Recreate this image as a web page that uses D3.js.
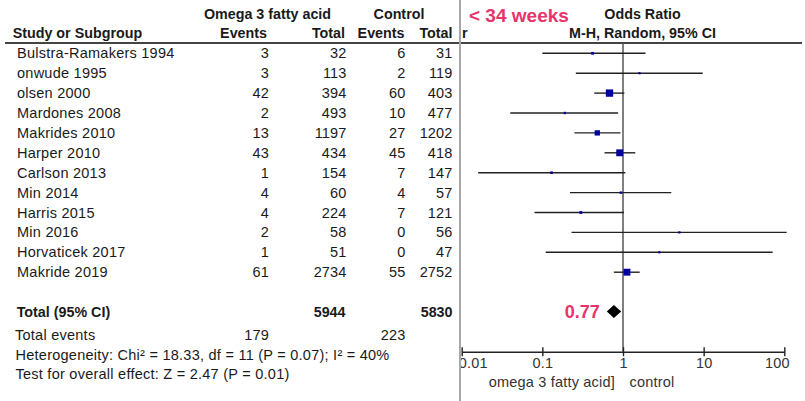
<!DOCTYPE html>
<html>
<head>
<meta charset="utf-8">
<script src="https://cdn.jsdelivr.net/npm/d3@7/dist/d3.min.js"></script>
<style>
  html, body { margin: 0; padding: 0; background: #fff; }
  svg { display: block; }
  text { font-family: "Liberation Sans", Arial, sans-serif; fill: #1a1a1a; }
</style>
</head>
<body>
<svg id="chart" width="805" height="401"></svg>
<script>
// ---- data ----
const studies = ["Bulstra-Ramakers 1994", "onwude 1995", "olsen 2000", "Mardones 2008",
  "Makrides 2010", "Harper 2010", "Carlson 2013", "Min 2014", "Harris 2015",
  "Min 2016", "Horvaticek 2017", "Makride 2019"];
const expEvents = [3, 3, 42, 2, 13, 43, 1, 4, 4, 2, 1, 61];
const expTotal = [32, 113, 394, 493, 1197, 434, 154, 60, 224, 58, 51, 2734];
const ctlEvents = [6, 2, 60, 10, 27, 45, 7, 4, 7, 0, 0, 55];
const ctlTotal = [31, 119, 403, 477, 1202, 418, 147, 57, 121, 56, 47, 2752];
const oddsRatio = [0.42, 1.60, 0.68, 0.19, 0.48, 0.91, 0.13, 0.94, 0.30, 5.00, 2.82, 1.12];
const ciLower = [0.10, 0.26, 0.44, 0.04, 0.25, 0.59, 0.016, 0.22, 0.08, 0.23, 0.11, 0.77];
const ciUpper = [1.90, 9.75, 1.04, 0.87, 0.93, 1.42, 1.07, 3.97, 1.03, 107, 71.6, 1.61];
const weights = [3.5, 2.0, 24, 2.5, 12.5, 21, 3.0, 2.5, 3.5, 1.0, 1.0, 21];
const totalExp = 5944, totalCtl = 5830;
const totalEventsExp = 179, totalEventsCtl = 223;
const pooled = { or: 0.77, lo: 0.63, hi: 0.95 };
const tickValues = [0.01, 0.1, 1, 10, 100];
const tickLabels = ["0.01", "0.1", "1", "10", "100"];

// ---- layout ----
const svg = d3.select("#chart");
const x = d3.scaleLog().domain([0.01, 100]).range([461.7, 784.3]);
const rowY = d3.scaleLinear().domain([0, 1]).range([53.3, 73.2]);
const sizeScale = d3.scaleSqrt().domain([0, 100]).range([0, 15]);
const fs = 14.3;
const fsN = 14.5;

function txt(xp, yp, s, opts = {}) {
  const t = svg.append("text").attr("x", xp).attr("y", yp)
    .attr("font-size", opts.size || (opts.bold ? fs : fsN))
    .attr("font-weight", opts.bold ? "bold" : "normal")
    .attr("text-anchor", opts.anchor || "start")
    .attr("dominant-baseline", "central")
    .style("fill", opts.color || "#1a1a1a")
    .text(s);
  if (!opts.bold) t.attr("letter-spacing", opts.ls != null ? opts.ls : 0.25);
  return t;
}
txt(267.5, 13.5, "Omega 3 fatty acid", { bold: true, anchor: "middle" });
txt(399, 13.5, "Control", { bold: true, anchor: "middle" });
txt(12.7, 33.3, "Study or Subgroup", { bold: true });
txt(267, 33.3, "Events", { bold: true, anchor: "end" });
txt(345, 33.3, "Total", { bold: true, anchor: "end" });
txt(404.5, 33.3, "Events", { bold: true, anchor: "end" });
txt(452.5, 33.3, "Total", { bold: true, anchor: "end" });
txt(462, 33.3, "r", { bold: true });
txt(469, 15, "< 34 weeks", { bold: true, size: 19, color: "#e8336b" });
txt(642.5, 13.5, "Odds Ratio", { bold: true, anchor: "middle" });
txt(642.5, 33.3, "M-H, Random, 95% CI", { bold: true, anchor: "middle" });

// header rules
svg.append("line").attr("x1", 5).attr("x2", 459).attr("y1", 43).attr("y2", 43)
  .attr("stroke", "#444").attr("stroke-width", 2);
svg.append("line").attr("x1", 461).attr("x2", 802).attr("y1", 43).attr("y2", 43)
  .attr("stroke", "#444").attr("stroke-width", 2);

// study rows (numbers right-aligned; no trailing letter-spacing offset)
studies.forEach((s, i) => {
  const y = rowY(i);
  txt(17, y, s);
  txt(269, y, expEvents[i], { anchor: "end", ls: 0.15 });
  txt(346.5, y, expTotal[i], { anchor: "end", ls: 0.15 });
  txt(405.5, y, ctlEvents[i], { anchor: "end", ls: 0.15 });
  txt(452.5, y, ctlTotal[i], { anchor: "end", ls: 0.15 });
});

// totals
const yTot = rowY(13) - 0.5;
txt(16.7, yTot, "Total (95% CI)", { bold: true });
txt(345.5, yTot, totalExp, { bold: true, anchor: "end" });
txt(452.5, yTot, totalCtl, { bold: true, anchor: "end" });
txt(15, 334.5, "Total events");
txt(269, 334.5, totalEventsExp, { anchor: "end", ls: 0.15 });
txt(405.5, 334.5, totalEventsCtl, { anchor: "end", ls: 0.15 });
txt(15.5, 354.5, "Heterogeneity: Chi\u00B2 = 18.33, df = 11 (P = 0.07); I\u00B2 = 40%");
txt(15.5, 374, "Test for overall effect: Z = 2.47 (P = 0.01)");

// null line
const axisY = 351.7;
svg.append("line").attr("x1", x(1)).attr("x2", x(1)).attr("y1", 43).attr("y2", axisY)
  .attr("stroke", "#555").attr("stroke-width", 1.5);

// CIs and squares
const g = svg.append("g");
studies.forEach((s, i) => {
  const y = rowY(i);
  g.append("line").attr("x1", x(ciLower[i])).attr("x2", x(ciUpper[i]))
    .attr("y1", y).attr("y2", y).attr("stroke", "#222").attr("stroke-width", 1.4);
  const sz = Math.max(2.2, sizeScale(weights[i]));
  g.append("rect").attr("x", x(oddsRatio[i]) - sz / 2).attr("y", y - sz / 2)
    .attr("width", sz).attr("height", sz).attr("fill", "#00009e");
});

// pooled diamond
const dh = 6.5;
svg.append("path")
  .attr("d", `M${x(pooled.lo)},${yTot} L${x(pooled.or)},${yTot - dh} L${x(pooled.hi)},${yTot} L${x(pooled.or)},${yTot + dh} Z`)
  .attr("fill", "#000");
txt(x(pooled.lo) - 7, yTot, pooled.or.toFixed(2), { bold: true, size: 18, anchor: "end", color: "#e8336b" });

// axis
const axis = d3.axisBottom(x).tickValues(tickValues)
  .tickFormat((d, i) => tickLabels[i]).tickSizeInner(4.5).tickSizeOuter(0).tickPadding(6);
const ax = svg.append("g").attr("transform", `translate(0,${axisY})`).call(axis);
ax.select(".domain").attr("stroke", "#222").attr("stroke-width", 1.4);
ax.selectAll(".tick line").attr("y1", -4.5).attr("y2", 4.5).attr("stroke", "#222").attr("stroke-width", 1.4);
ax.selectAll(".tick text")
  .attr("font-size", fsN).attr("font-family", "Liberation Sans, Arial, sans-serif")
  .attr("letter-spacing", 0.2)
  .style("fill", "#333").attr("dy", null).attr("y", 11.5).attr("dominant-baseline", "central");
ax.selectAll(".tick text").filter((d) => d === 0.01).attr("text-anchor", "start").attr("x", -3.5);
ax.selectAll(".tick text").filter((d) => d === 100).attr("text-anchor", "end").attr("x", 5);

txt(x(1) - 8, 381.7, "omega 3 fatty acid]", { anchor: "end", color: "#333", ls: 0.2 });
txt(x(1) + 6.5, 381.7, "control", { color: "#333", ls: 0.2 });

// separator line
svg.append("line").attr("x1", 460).attr("x2", 460).attr("y1", 0).attr("y2", 401)
  .attr("stroke", "#a8a8a8").attr("stroke-width", 2);
</script>
</body>
</html>
